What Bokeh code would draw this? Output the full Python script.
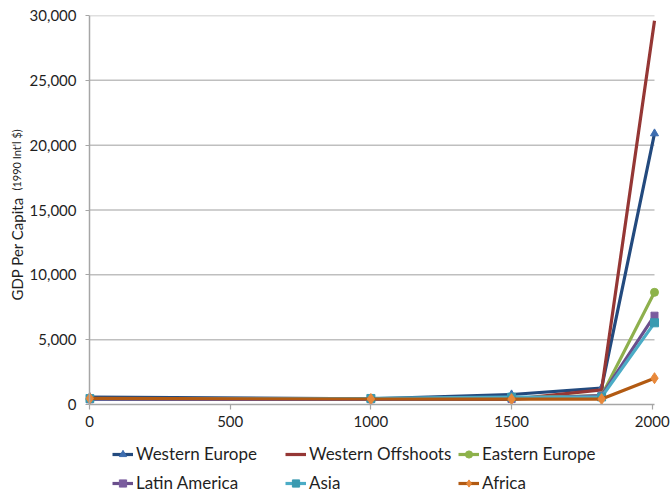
from bokeh.plotting import figure
from bokeh.models import (Range1d, FixedTicker, NumeralTickFormatter, Legend,
                          LegendItem, Label, Span)
from bokeh.layouts import row, column
from bokeh.embed import file_html
from bokeh.resources import INLINE
import math

# ---------------- data ----------------
years = [1, 1000, 1500, 1820, 2008]
western_europe = [576, 427, 771, 1270, 20900]
western_offshoots = [400, 400, 400, 1130, 29600]
eastern_europe = [412, 400, 496, 683, 8650]
latin_america = [400, 400, 416, 691, 6850]
asia = [456, 466, 568, 581, 6300]
africa = [472, 425, 414, 420, 2030]

x_ticks = [0, 500, 1000, 1500, 2000]
y_ticks = [0, 5000, 10000, 15000, 20000, 25000, 30000]

FONT = "Lato"
TXT = "#1f1f1f"


def bare(width, height, **kw):
    f = figure(width=width, height=height, output_backend="svg",
               toolbar_location=None, x_range=Range1d(-2, -1),
               y_range=Range1d(-2, -1), min_border=0, **kw)
    f.axis.visible = False
    f.grid.visible = False
    f.outline_line_color = None
    return f


STRIP_W = 26
AXIS_W = 59

# ---------------- main plot ----------------
p = figure(width=671 - STRIP_W, height=434, output_backend="svg",
           toolbar_location=None,
           x_range=Range1d(-14.22, 2036.43), y_range=Range1d(0, 30000),
           min_border_left=0, min_border_right=9, min_border_top=15,
           min_border_bottom=30)
p.outline_line_color = None
p.xgrid.visible = False
p.ygrid.visible = False

grid_y = y_ticks[1:]
p.segment(x0=[x_ticks[0]] * len(grid_y), x1=[years[-1]] * len(grid_y),
          y0=grid_y, y1=grid_y, line_color="#bfbfbf", line_width=1.5)
p.add_layout(Span(location=x_ticks[0], dimension="height",
                  line_color="#a6a6a6", line_width=1.5))

p.xaxis.ticker = FixedTicker(ticks=x_ticks)
p.yaxis.ticker = FixedTicker(ticks=y_ticks)
p.yaxis.formatter = NumeralTickFormatter(format="0,0")
for ax in (p.xaxis, p.yaxis):
    ax.axis_line_color = "#a6a6a6"
    ax.axis_line_width = 1.5
    ax.major_tick_line_color = "#a6a6a6"
    ax.major_tick_line_width = 1.2
    ax.minor_tick_line_color = None
    ax.major_label_text_font = FONT
    ax.major_label_text_font_size = "15px"
    ax.major_label_text_color = TXT
p.xaxis.bounds = (x_ticks[0], years[-1])
p.xaxis.major_tick_out = 5
p.xaxis.major_tick_in = 0
p.xaxis.major_label_standoff = 6
p.yaxis.axis_line_color = None
p.yaxis.major_tick_out = 0
p.yaxis.major_tick_in = 4
p.yaxis.major_label_standoff = 9

series = [
    ("Western Europe", western_europe, "#234a7e", "triangle", "#3d6db0", 8),
    ("Western Offshoots", western_offshoots, "#953735", None, None, 0),
    ("Eastern Europe", eastern_europe, "#8eb04d", "circle", "#8db34a", 8),
    ("Latin America", latin_america, "#6a4f8c", "square_x", "#7a5c9e", 7),
    ("Asia", asia, "#4bacc6", "square", "#3a9ab0", 8),
    ("Africa", africa, "#b25a12", "diamond", "#e8883a", 11),
]

# ---------------- legend strip (same left border as the plot) ----------------
lf = bare(671 - STRIP_W, 59, min_border_left=AXIS_W)
items = {}
for name, vals, lc, marker, mc, ms in series:
    p.line(years, vals, line_color=lc, line_width=3.2)
    r = [lf.line(years, vals, line_color=lc, line_width=3.2)]
    if marker:
        p.scatter(years, vals, marker=marker, size=ms, fill_color=mc,
                  line_color=mc, line_width=1)
        r.append(lf.scatter(years, vals, marker=marker, size=ms,
                            fill_color=mc, line_color=mc, line_width=1))
    items[name] = LegendItem(label=name, renderers=r)

cols = [["Western Europe", "Latin America"],
        ["Western Offshoots", "Asia"],
        ["Eastern Europe", "Africa"]]
col_x = [27, 200, 373]
for names, lx in zip(cols, col_x):
    lg = Legend(items=[items[n] for n in names], location=(lx, 0),
                orientation="vertical", background_fill_alpha=0,
                border_line_alpha=0, padding=0, margin=0, spacing=8,
                glyph_width=21, glyph_height=18, label_height=18,
                label_standoff=3, label_text_font=FONT,
                label_text_font_size="17px", label_text_color=TXT,
                label_text_baseline="middle")
    lf.add_layout(lg, "center")

# ---------------- y title strip ----------------
tf = bare(STRIP_W, 493)
tf.add_layout(Label(x=16, y=193, x_units="screen", y_units="screen",
                    text="GDP Per Capita", angle=math.pi / 2,
                    text_font=FONT, text_font_size="15px", text_color=TXT,
                    text_align="left", text_baseline="alphabetic"))
tf.add_layout(Label(x=16, y=303, x_units="screen", y_units="screen",
                    text="(1990 Int'l $)", angle=math.pi / 2,
                    text_font=FONT, text_font_size="11px", text_color=TXT,
                    text_align="left", text_baseline="alphabetic"))

layout = row(tf, column(p, lf, spacing=0), spacing=0)
open("out.html", "w").write(file_html(layout, INLINE))
